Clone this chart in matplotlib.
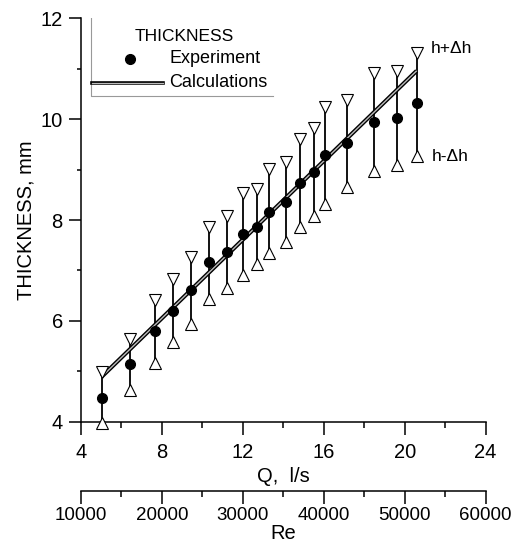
import matplotlib
matplotlib.use("Agg")
import matplotlib.pyplot as plt
from matplotlib.lines import Line2D

plt.rcParams['font.family'] = ['Liberation Sans', 'DejaVu Sans']

# experiment: flow rate Q (l/s), thickness h and bounds h+dh, h-dh (mm)
q = [5.02, 6.42, 7.64, 8.56, 9.42, 10.31, 11.22, 12.02, 12.70, 13.30,
     14.13, 14.83, 15.52, 16.06, 17.17, 18.50, 19.60, 20.59]
h = [4.48, 5.14, 5.79, 6.20, 6.61, 7.16, 7.36, 7.72, 7.87, 8.16,
     8.36, 8.74, 8.96, 9.29, 9.53, 9.94, 10.03, 10.32]
h_up = [4.98, 5.65, 6.41, 6.83, 7.27, 7.87, 8.08, 8.54, 8.61, 9.01,
        9.16, 9.60, 9.83, 10.25, 10.38, 10.91, 10.96, 11.31]
h_low = [3.97, 4.63, 5.16, 5.59, 5.94, 6.43, 6.65, 6.91, 7.12, 7.34,
         7.57, 7.87, 8.08, 8.32, 8.66, 8.98, 9.09, 9.28]

# calculations (straight line)
q_calc = [5.02, 20.59]
h_calc = [4.89, 10.96]

q_ticks = [4, 8, 12, 16, 20, 24]
h_ticks = [4, 6, 8, 10, 12]
re_ticks = [10000, 20000, 30000, 40000, 50000, 60000]

fig = plt.figure(figsize=(5.12, 5.54), dpi=100)
ax = fig.add_axes([0.158, 0.2388, 0.7906, 0.728])

# error bars
ax.vlines(q, h_low, h_up, color='black', lw=1.3, zorder=2, clip_on=False)
# calculation line (double line look)
ax.plot(q_calc, h_calc, color='black', lw=3.0, zorder=3, solid_capstyle='butt')
ax.plot(q_calc, h_calc, color='#bbbbbb', lw=1.0, zorder=4, solid_capstyle='butt')
ax.plot(q, h_up, 'v', ms=9, mfc='white', mec='black', mew=0.8, ls='none', zorder=5, clip_on=False)
ax.plot(q, h_low, '^', ms=9, mfc='white', mec='black', mew=0.8, ls='none', zorder=5, clip_on=False)
ax.plot(q, h, 'o', ms=7, color='black', ls='none', zorder=6)

ax.set_xlim(4, 24)
ax.set_ylim(4, 12)
ax.set_xticks(q_ticks)
ax.set_xticks([6, 10, 14, 18, 22], minor=True)
ax.set_yticks(h_ticks)
ax.set_yticks([5, 7, 9, 11], minor=True)
for s in ['top', 'right']:
    ax.spines[s].set_visible(False)
for s in ['left', 'bottom']:
    ax.spines[s].set_linewidth(1.1)
ax.tick_params(which='major', direction='out', length=9, width=1.1, labelsize=14.5, pad=4)
ax.tick_params(axis='x', which='major', pad=6)
ax.tick_params(axis='x', which='minor', direction='out', length=4.5, width=1.1)
ax.tick_params(axis='y', which='minor', direction='out', length=3.2, width=1.1)
ax.set_xlabel('Q,  l/s', fontsize=14.5, labelpad=4)
ax.set_ylabel('THICKNESS, mm', fontsize=14.5, labelpad=4)

ax.text(21.3, 11.41, 'h+\u0394h', fontsize=12.5, va='center', ha='left')
ax.text(21.35, 9.26, 'h-\u0394h', fontsize=12.5, va='center', ha='left')

# legend drawn by hand
ax.add_line(Line2D([0.024, 0.024, 0.474], [1.0, 0.807, 0.807], transform=ax.transAxes,
                   color='#999999', lw=0.8))
ax.text(0.255, 0.955, 'THICKNESS', transform=ax.transAxes, fontsize=12.5, ha='center', va='center')
ax.plot([0.121], [0.9], 'o', ms=7, color='black', transform=ax.transAxes)
ax.text(0.218, 0.9, 'Experiment', transform=ax.transAxes, fontsize=13, ha='left', va='center')
ax.add_line(Line2D([0.028, 0.204], [0.84, 0.84], transform=ax.transAxes, color='black', lw=2.6))
ax.add_line(Line2D([0.028, 0.204], [0.84, 0.84], transform=ax.transAxes, color='#bbbbbb', lw=0.9))
ax.text(0.218, 0.84, 'Calculations', transform=ax.transAxes, fontsize=13, ha='left', va='center')

# Reynolds number axis
ax2 = fig.add_axes([0.158, 0.1143, 0.7906, 0.001])
ax2.set_xlim(10000, 60000)
ax2.set_xticks(re_ticks)
ax2.set_xticks([15000, 25000, 35000, 45000, 55000], minor=True)
ax2.set_yticks([])
ax2.patch.set_visible(False)
for s in ['top', 'right', 'left']:
    ax2.spines[s].set_visible(False)
ax2.spines['bottom'].set_linewidth(1.1)
ax2.tick_params(which='major', direction='out', length=9, width=1.1, labelsize=13.5, pad=3)
ax2.tick_params(which='minor', direction='out', length=4.5, width=1.1)
ax2.set_xlabel('Re', fontsize=14.5, labelpad=0)

fig.savefig('out.png', dpi=100)
